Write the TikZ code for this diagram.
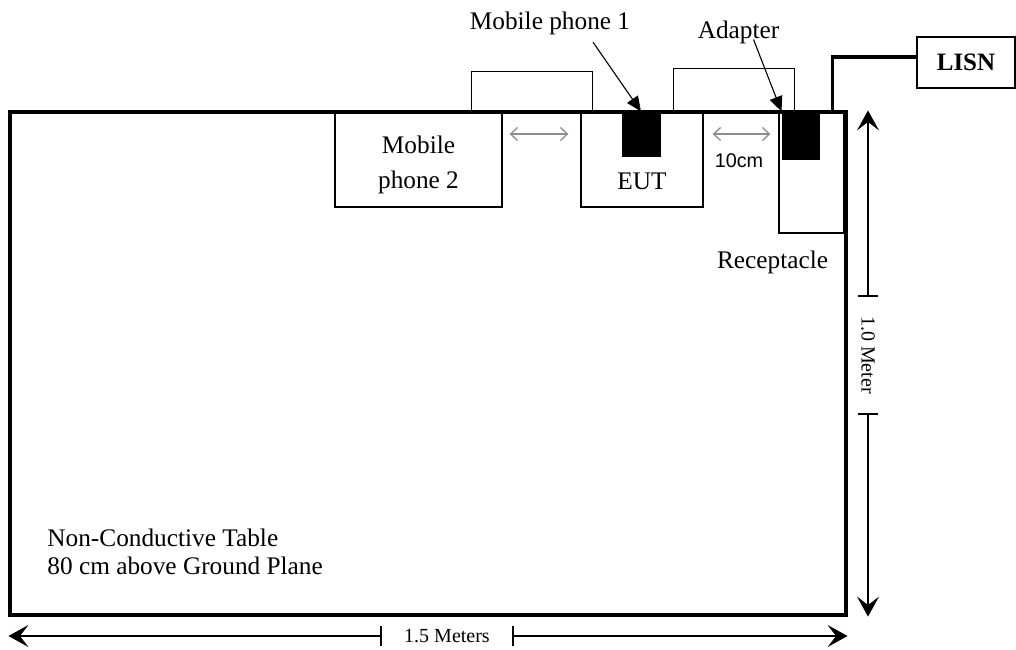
\documentclass[tikz,border=0pt]{standalone}
\usepackage{fontspec}
\setmainfont{Liberation Serif}
\newfontfamily\labelsans{Liberation Sans}
\usetikzlibrary{arrows.meta}

\begin{document}
\begin{tikzpicture}[
    x=0.5pt, y=-0.5pt,
    every node/.style={font=\fontsize{12.65}{14.25}\selectfont, inner sep=0pt},
    box/.style={rectangle, draw, line width=0.65pt},
    plug/.style={rectangle, draw, fill=black, line width=0.5pt},
    cable/.style={line width=0.65pt},
    power/.style={line width=1.8pt},
    gap/.style={{Straight Barb[length=3.5pt,width=6.5pt]}-{Straight Barb[length=3.5pt,width=6.5pt]}, line width=0.65pt, color=black!45},
    pointer/.style={-{Triangle[length=7.5pt,width=6.5pt]}, line width=0.55pt},
    dim/.style={{Bar[width=10pt]}-{Stealth[length=10pt,width=11pt,inset=4.2pt]}, line width=0.65pt},
    dimtext/.style={font=\fontsize{10}{12}\selectfont}
]
    \useasboundingbox (0,0) rectangle (1016,649);

    % Table
    \node[box, line width=1.6pt, minimum width=418pt, minimum height=251.5pt] (table) at (428,363.5) {};
    \node[anchor=west, align=left] (tablelbl) at (47,552) {Non-Conductive Table\\80 cm above Ground Plane};

    % Devices on the table
    \node[box, minimum width=83.5pt, minimum height=47.5pt] (phone2) at (418.5,159.5) {};
    \node[align=center, font=\fontsize{12.65}{17.5}\selectfont] (phone2lbl) at (418.5,164.6) {Mobile\\phone 2};
    \node[box, minimum width=61pt, minimum height=47.5pt] (eut) at (642,159.5) {};
    \node (eutlbl) at (642,181.5) {EUT};
    \node[plug, minimum width=19pt, minimum height=22pt] (plug1) at (641,134) {};
    \node[box, minimum width=32.5pt, minimum height=60.5pt] (recep) at (811.5,172.5) {};
    \node[plug, minimum width=18.5pt, minimum height=23.5pt] (plug2) at (800.5,135.5) {};
    \node (receplbl) at (772.5,262.4) {Receptacle};
    \node[box, minimum width=49pt, minimum height=25.5pt, font=\fontsize{12.5}{14}\selectfont\bfseries] (lisn) at (966,62.5) {LISN};

    % Labels with pointers
    \node (phone1lbl) at (550,23.5) {Mobile phone 1};
    \node (adaptlbl) at (738.5,32) {Adapter};
    \draw[pointer] ([xshift=21.5pt,yshift=-3.4pt]phone1lbl.south) -- (plug1.north);
    \draw[pointer] ([xshift=7.5pt,yshift=2.2pt]adaptlbl.south) -- (plug2.north west);

    % Cables
    \draw[cable] ([xshift=-15.5pt]phone2.north east) -- ++(0,-40) -| ([xshift=6pt]eut.north west);
    \draw[cable] ([xshift=-15pt]eut.north east) -- ++(0,-43) -| ([xshift=6.5pt]plug2.north west);
    \draw[power] ([xshift=-6pt]recep.north east) |- ([yshift=2.75pt]lisn.west);

    % Spacing arrows
    \draw[gap, shorten <=3.5pt, shorten >=6pt] (phone2.east |- plug1) -- (eut.west |- plug1);
    \draw[gap, shorten <=4.5pt, shorten >=4pt] (eut.east |- plug1) -- (recep.west |- plug1);
    \node[font=\labelsans\fontsize{9.9}{12}\selectfont] (gaplbl) at (739,161) {10cm};

    % Dimensions
    \node[dimtext, rotate=-90, minimum width=58pt] (hgtlbl) at (868,355) {1.0 Meter};
    \node[dimtext, minimum width=65pt] (widlbl) at (447,636) {1.5 Meters};
    \draw[dim] (hgtlbl.west) -- (hgtlbl.west |- table.north);
    \draw[dim] (hgtlbl.east) -- (hgtlbl.east |- table.south);
    \draw[dim] (widlbl.west) -- (widlbl.west -| table.west);
    \draw[dim] (widlbl.east) -- (widlbl.east -| table.east);
\end{tikzpicture}
\end{document}
